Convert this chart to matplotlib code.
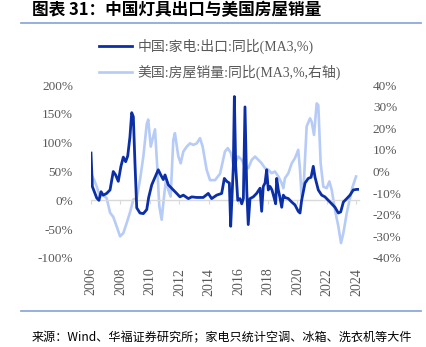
import matplotlib
matplotlib.use("Agg")
import matplotlib.pyplot as plt
from matplotlib.lines import Line2D

plt.rcParams['font.family'] = ['Liberation Serif', 'Noto Sans CJK SC']

# 中国:家电:出口:同比(MA3,%)  -- left axis
cn_year = [2006.00, 2006.09, 2006.39, 2006.54, 2006.68, 2006.83, 2007.06, 2007.29, 2007.51, 2007.67,
           2007.85, 2008.03, 2008.19, 2008.35, 2008.49, 2008.64, 2008.76, 2008.87, 2008.98, 2009.10,
           2009.32, 2009.55, 2009.78, 2009.91, 2010.12, 2010.34, 2010.56, 2010.73, 2010.90, 2011.02,
           2011.24, 2011.58, 2011.81, 2012.03, 2012.26, 2012.60, 2012.83, 2013.17, 2013.61, 2013.95,
           2014.18, 2014.52, 2014.86, 2015.04, 2015.20, 2015.38, 2015.47, 2015.58, 2015.65, 2015.72,
           2015.81, 2015.95, 2016.10, 2016.22, 2016.33, 2016.44, 2016.56, 2016.66, 2016.78, 2017.00,
           2017.23, 2017.46, 2017.57, 2017.68, 2017.80, 2017.91, 2018.02, 2018.14, 2018.27, 2018.43,
           2018.52, 2018.59, 2018.70, 2018.81, 2018.93, 2019.04, 2019.15, 2019.38, 2019.61, 2019.83,
           2020.05, 2020.17, 2020.28, 2020.51, 2020.73, 2020.92, 2021.07, 2021.19, 2021.41, 2021.64,
           2021.86, 2022.09, 2022.32, 2022.54, 2022.77, 2022.93, 2023.11, 2023.34, 2023.56, 2023.78,
           2024.01, 2024.12]
cn_val = [82, 24, 4, 0, 15, 9, 12, 18, 50, 44,
          33, 59, 75, 67, 77, 110, 152, 145, 65, -13,
          -22, -23, -16, 5, 27, 40, 53, 44, 36, 44,
          27, 18, 12, 6, 9, 3, 6, 5, 5, 12,
          3, 9, 12, 38, 33, 30, -45, 18, 59, 180,
          59, 0, 3, -6, 3, 162, 18, -42, 3, 6,
          12, 21, -19, 24, 30, 53, 18, 24, 18, 3,
          -6, 38, 18, 5, -12, 9, 5, 3, -3, -8,
          -19, -22, 0, 30, 38, 40, 59, 40, 18, 9,
          6, 0, -6, -12, -22, -20, -3, 3, 9, 18,
          19, 19]

# 美国:房屋销量:同比(MA3,%,右轴)  -- right axis
us_year = [2006.00, 2006.22, 2006.39, 2006.61, 2006.83, 2007.06, 2007.29, 2007.51, 2007.74, 2007.97,
           2008.19, 2008.42, 2008.64, 2008.87, 2009.10, 2009.32, 2009.55, 2009.78, 2009.88, 2010.05,
           2010.34, 2010.49, 2010.63, 2010.79, 2010.95, 2011.08, 2011.24, 2011.40, 2011.58, 2011.69,
           2011.92, 2012.08, 2012.26, 2012.49, 2012.71, 2012.94, 2013.17, 2013.39, 2013.57, 2013.84,
           2014.07, 2014.41, 2014.75, 2015.08, 2015.27, 2015.49, 2015.65, 2015.81, 2015.99, 2016.22,
           2016.44, 2016.66, 2016.90, 2017.12, 2017.34, 2017.57, 2017.80, 2018.02, 2018.25, 2018.47,
           2018.70, 2018.93, 2019.04, 2019.15, 2019.38, 2019.61, 2019.83, 2020.05, 2020.17, 2020.28,
           2020.44, 2020.62, 2020.85, 2020.96, 2021.12, 2021.30, 2021.41, 2021.57, 2021.75, 2021.98,
           2022.16, 2022.32, 2022.54, 2022.77, 2022.95, 2023.11, 2023.34, 2023.56, 2023.74, 2023.97]
us_val = [-1, -4, -7, -11.6, -11, -12.3, -19, -21, -25.4, -30,
          -28.5, -23.8, -19, -13, -12.3, -4, 7, 22, 24, 11.5,
          19.5, 2.3, -16, -22.3, -11.6, -4, -8.5, -11.6, 14.6, 17.7,
          7, 3.8, 9.2, 11.5, 13, 12.3, 13, 15.4, 11.5, 0.8,
          -4, -4, -1, 9.2, 10.8, 8.5, 3.1, 4.6, 6.9, 5.4,
          2.3, 1.5, 5.4, 6.9, 5.4, 3.8, 1.5, 0.8, -0.8, 0,
          -2.3, -5.4, -7.7, -3.1, -0.8, 3.8, 6.2, 10, 0.8, -11.6,
          -3.9, 20.8, 24.6, 23, 16.9, 31.5, 30.7, 3.8, -7, -7.7,
          -4.6, -8.5, -17.7, -25.4, -33.1, -28.5, -19.2, -12.3, -7, -2.3]

left_ticks = [-100, -50, 0, 50, 100, 150, 200]
right_ticks = [-40, -30, -20, -10, 0, 10, 20, 30, 40]
year_ticks = list(range(2006, 2025, 2))

dark = '#0b2fa6'
light = '#b7cbf7'
grey = '#595959'

W, H = 426, 347
fig = plt.figure(figsize=(W / 100, H / 100), dpi=100)

ax = fig.add_axes([91 / W, 89 / H, 268 / W, 173 / H])
ax2 = ax.twinx()

ax.plot(cn_year, cn_val, color=dark, lw=2.0, zorder=3, label='中国:家电:出口:同比(MA3,%)')
ax2.plot(us_year, us_val, color=light, lw=1.9, zorder=2, label='美国:房屋销量:同比(MA3,%,右轴)')
ax.set_zorder(ax2.get_zorder() + 1)
ax.patch.set_visible(False)

ax.set_xlim(2006, 2024.17)
ax.set_ylim(-100, 200)
ax2.set_ylim(-40, 40)

for a in (ax, ax2):
    for s in a.spines.values():
        s.set_visible(False)

# category axis crosses at 0 on the left axis
ax.spines['bottom'].set_visible(True)
ax.spines['bottom'].set_position(('data', 0))
ax.spines['bottom'].set_color('#d9d9d9')
ax.spines['bottom'].set_linewidth(1.0)
ax.set_xticks(year_ticks)
ax.tick_params(axis='x', direction='out', length=3, color='#d9d9d9', labelbottom=False)

sec = ax.secondary_xaxis('bottom')
sec.set_xticks(year_ticks)
sec.set_xticklabels([str(y) for y in year_ticks], rotation=90, fontsize=10, color=grey)
sec.tick_params(length=0, pad=7)
for s in sec.spines.values():
    s.set_visible(False)

ax.set_yticks(left_ticks)
ax.set_yticklabels([f'{v}%' for v in left_ticks], fontsize=9.5, color=grey)
ax.tick_params(axis='y', length=0, pad=13)
ax2.set_yticks(right_ticks)
ax2.set_yticklabels([f'{v}%' for v in right_ticks], fontsize=9.5, color=grey)
ax2.tick_params(axis='y', length=0, pad=10)

h1, l1 = ax.get_legend_handles_labels()
h2, l2 = ax2.get_legend_handles_labels()
fig.legend(h1 + h2, l1 + l2, loc='upper left', bbox_to_anchor=(99 / W, 1 - 39 / H),
           frameon=False, fontsize=10, labelcolor=grey, handlelength=2.4,
           handletextpad=0.35, labelspacing=0.75, borderpad=0, borderaxespad=0)

fig.text(32 / W, 1 - 10 / H, '图表 31：中国灯具出口与美国房屋销量', fontsize=12,
         fontweight='bold', family=['Noto Sans CJK SC'], va='center', ha='left')
fig.add_artist(Line2D([21 / W, 421 / W], [1 - 22.7 / H] * 2, color='#8eaadb', lw=1.3))
fig.add_artist(Line2D([21 / W, 421 / W], [1 - 310.7 / H] * 2, color='#8eaadb', lw=1.3))
fig.text(32 / W, 1 - 338 / H, '来源：Wind、华福证券研究所；家电只统计空调、冰箱、洗衣机等大件',
         fontsize=8.7, family=['Noto Sans CJK SC'], va='center', ha='left')

fig.savefig('out.png', dpi=100)
